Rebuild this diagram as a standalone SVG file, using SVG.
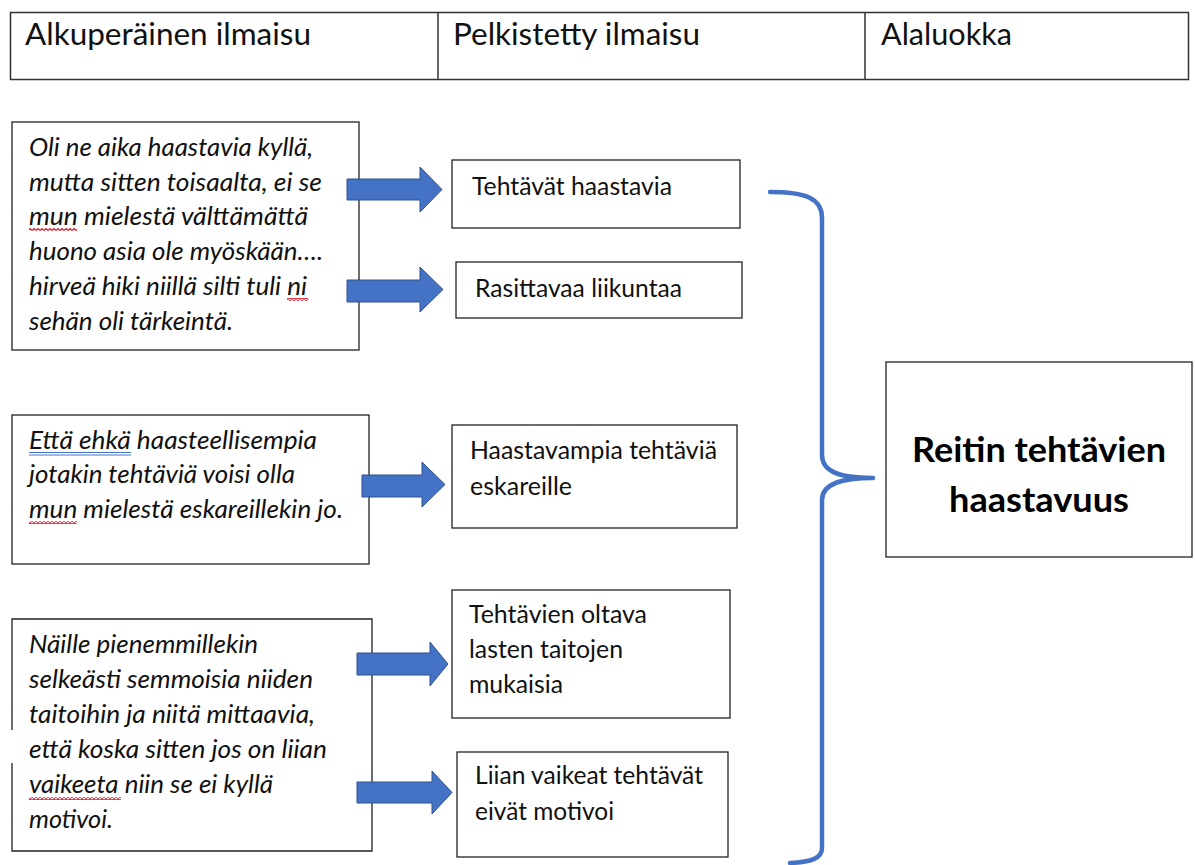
<svg xmlns="http://www.w3.org/2000/svg" width="1195" height="865" viewBox="0 0 1195 865">
<defs>
<style>
.hd{font-family:Lato,"Noto Sans",sans-serif;font-size:30px;fill:#111}
.it{font-family:Lato,"Noto Sans",sans-serif;font-size:25.5px;font-style:italic;fill:#111}
.tx{font-family:Lato,"Noto Sans",sans-serif;font-size:24.5px;fill:#111}
.bd{font-family:Lato,"Noto Sans",sans-serif;font-size:35px;font-weight:bold;fill:#000}
.box{fill:#fff;stroke:#222;stroke-width:1.3}
.arr{fill:#4472C4;stroke:#2F528F;stroke-width:1}
.brace{fill:none;stroke:#4472C4;stroke-width:4.5;stroke-linecap:round;stroke-linejoin:round}
</style>
<pattern id="wavy" x="0" y="0" width="4" height="3" patternUnits="userSpaceOnUse">
<path d="M0,2.5 L2,0.5 L4,2.5" fill="none" stroke="#e81123" stroke-width="1.2"/>
</pattern>
</defs>
<rect width="1195" height="865" fill="#fff"/>

<g id="header">
<rect x="10.5" y="12.5" width="1178" height="67" fill="#fff" stroke="#333" stroke-width="1.5"/>
<line x1="438" y1="12.5" x2="438" y2="79.5" stroke="#333" stroke-width="1.5"/>
<line x1="865" y1="12.5" x2="865" y2="79.5" stroke="#333" stroke-width="1.5"/>
<text class="hd" x="25" y="45" textLength="286" lengthAdjust="spacingAndGlyphs">Alkuperäinen ilmaisu</text>
<text class="hd" x="453" y="45" textLength="247" lengthAdjust="spacingAndGlyphs">Pelkistetty ilmaisu</text>
<text class="hd" x="881" y="45" textLength="131" lengthAdjust="spacingAndGlyphs">Alaluokka</text>
</g>

<g id="quote1">
<rect class="box" x="12" y="122" width="347" height="228"/>
<text class="it" x="29" y="156" textLength="284" lengthAdjust="spacingAndGlyphs">Oli ne aika haastavia kyllä,</text>
<text class="it" x="29" y="191" textLength="293" lengthAdjust="spacingAndGlyphs">mutta sitten toisaalta, ei se</text>
<text class="it" x="29" y="225" textLength="279" lengthAdjust="spacingAndGlyphs">mun mielestä välttämättä</text>
<text class="it" x="29" y="260" textLength="294" lengthAdjust="spacingAndGlyphs">huono asia ole myöskään….</text>
<text class="it" x="29" y="295" textLength="278" lengthAdjust="spacingAndGlyphs">hirveä hiki niillä silti tuli ni</text>
<text class="it" x="29" y="330" textLength="204" lengthAdjust="spacingAndGlyphs">sehän oli tärkeintä.</text>
<rect x="29" y="228" width="48" height="3" fill="url(#wavy)"/>
<rect x="287" y="298" width="21" height="3" fill="url(#wavy)"/>
</g>

<g id="quote2">
<rect class="box" x="12" y="415" width="357" height="149"/>
<text class="it" x="29" y="449" textLength="288" lengthAdjust="spacingAndGlyphs">Että ehkä haasteellisempia</text>
<text class="it" x="29" y="483" textLength="266" lengthAdjust="spacingAndGlyphs">jotakin tehtäviä voisi olla</text>
<text class="it" x="29" y="518" textLength="314" lengthAdjust="spacingAndGlyphs">mun mielestä eskareillekin jo.</text>
<line x1="29" y1="452.5" x2="131" y2="452.5" stroke="#4472C4" stroke-width="1"/>
<line x1="29" y1="455" x2="131" y2="455" stroke="#4472C4" stroke-width="1"/>
<rect x="29" y="521" width="48" height="3" fill="url(#wavy)"/>
</g>

<g id="quote3">
<path class="box" d="M12,730 V619 H372 V851 H12 V763"/>
<text class="it" x="29" y="653" textLength="229" lengthAdjust="spacingAndGlyphs">Näille pienemmillekin</text>
<text class="it" x="29" y="688" textLength="284" lengthAdjust="spacingAndGlyphs">selkeästi semmoisia niiden</text>
<text class="it" x="29" y="723" textLength="286" lengthAdjust="spacingAndGlyphs">taitoihin ja niitä mittaavia,</text>
<text class="it" x="29" y="758" textLength="298" lengthAdjust="spacingAndGlyphs">että koska sitten jos on liian</text>
<text class="it" x="29" y="793" textLength="244" lengthAdjust="spacingAndGlyphs">vaikeeta niin se ei kyllä</text>
<text class="it" x="29" y="828" textLength="84" lengthAdjust="spacingAndGlyphs">motivoi.</text>
<rect x="29" y="797" width="92" height="3" fill="url(#wavy)"/>
</g>

<g id="reduced1">
<rect class="box" x="452" y="160" width="288" height="68"/>
<text class="tx" x="472" y="195" textLength="200" lengthAdjust="spacingAndGlyphs">Tehtävät haastavia</text>
</g>
<g id="reduced2">
<rect class="box" x="456" y="262" width="286" height="56"/>
<text class="tx" x="475" y="297" textLength="207" lengthAdjust="spacingAndGlyphs">Rasittavaa liikuntaa</text>
</g>
<g id="reduced3">
<rect class="box" x="452" y="425" width="285" height="103"/>
<text class="tx" x="470" y="459" textLength="247" lengthAdjust="spacingAndGlyphs">Haastavampia tehtäviä</text>
<text class="tx" x="470" y="495" textLength="102" lengthAdjust="spacingAndGlyphs">eskareille</text>
</g>
<g id="reduced4">
<rect class="box" x="452" y="590" width="278" height="128"/>
<text class="tx" x="469" y="623" textLength="178" lengthAdjust="spacingAndGlyphs">Tehtävien oltava</text>
<text class="tx" x="469" y="658" textLength="154" lengthAdjust="spacingAndGlyphs">lasten taitojen</text>
<text class="tx" x="469" y="693" textLength="94" lengthAdjust="spacingAndGlyphs">mukaisia</text>
</g>
<g id="reduced5">
<rect class="box" x="457" y="752" width="271" height="105"/>
<text class="tx" x="475" y="784" textLength="228" lengthAdjust="spacingAndGlyphs">Liian vaikeat tehtävät</text>
<text class="tx" x="475" y="820" textLength="139" lengthAdjust="spacingAndGlyphs">eivät motivoi</text>
</g>

<g id="category">
<rect class="box" x="886" y="362" width="306" height="195"/>
<text class="bd" x="1039" y="462" text-anchor="middle" textLength="254" lengthAdjust="spacingAndGlyphs">Reitin tehtävien</text>
<text class="bd" x="1039" y="512" text-anchor="middle" textLength="180" lengthAdjust="spacingAndGlyphs">haastavuus</text>
</g>

<g id="connectors">
<polygon class="arr" points="347,179 420,179 420,167 442,189.5 420,212 420,200 347,200"/>
<polygon class="arr" points="347,280 420,280 420,267 443,289.5 420,312 420,302 347,302"/>
<polygon class="arr" points="362,475 422,475 422,462 445,484.5 422,507 422,497 362,497"/>
<polygon class="arr" points="357,653 430,653 430,642 448,664 430,686 430,675 357,675"/>
<polygon class="arr" points="357,782 432,782 432,771 452,792.5 432,814 432,803 357,803"/>
<path class="brace" d="M770,192 C805,192 822,198 822,218 L822,455 C822,470 836,478 873,478 C836,478 822,486 822,500 L822,848 C822,858 812,862 790,863"/>
</g>
</svg>
